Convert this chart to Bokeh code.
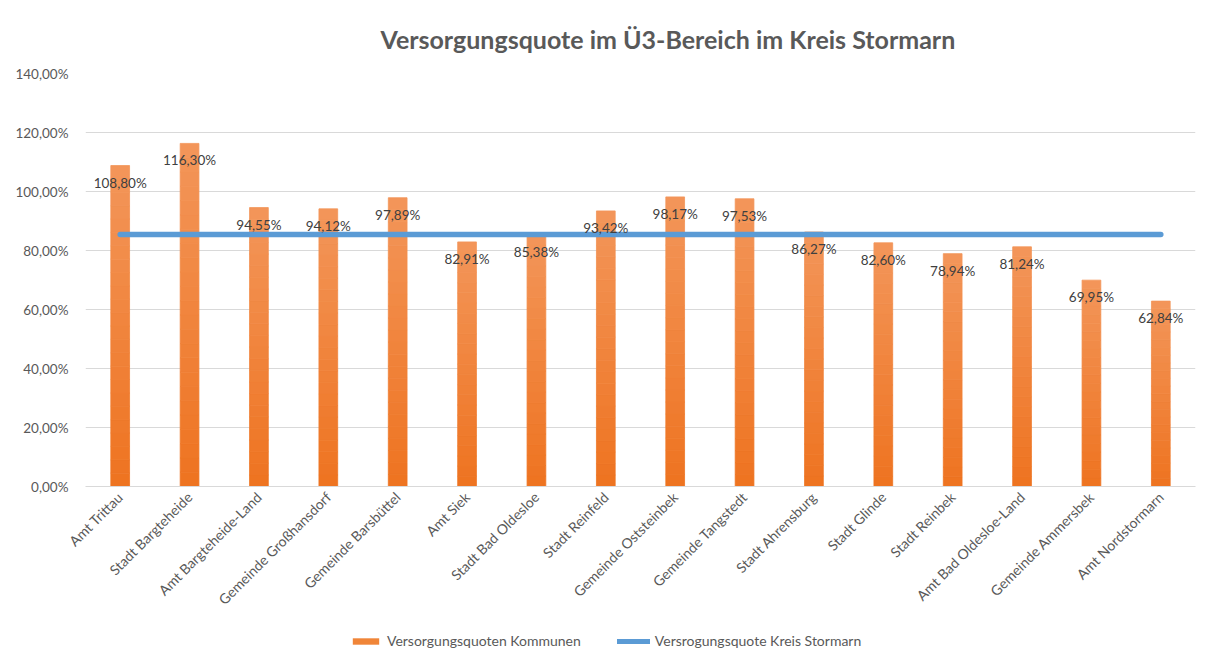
from bokeh.plotting import figure
from bokeh.layouts import column
from bokeh.models import (Range1d, FactorRange, SingleIntervalTicker, CustomJSTickFormatter,
                          Legend, LegendItem, ColumnDataSource)
from bokeh.core.properties import value
from bokeh.embed import file_html
from bokeh.resources import INLINE
import math

categories = ["Amt Trittau", "Stadt Bargteheide", "Amt Bargteheide-Land", "Gemeinde Großhansdorf",
              "Gemeinde Barsbüttel", "Amt Siek", "Stadt Bad Oldesloe", "Stadt Reinfeld",
              "Gemeinde Oststeinbek", "Gemeinde Tangstedt", "Stadt Ahrensburg", "Stadt Glinde",
              "Stadt Reinbek", "Amt Bad Oldesloe-Land", "Gemeinde Ammersbek", "Amt Nordstormarn"]
quoten = [108.80, 116.30, 94.55, 94.12, 97.89, 82.91, 85.38, 93.42,
          98.17, 97.53, 86.27, 82.60, 78.94, 81.24, 69.95, 62.84]
kreis_quote = 85.4

labels = [f"{v:.2f}".replace(".", ",") + "%" for v in quoten]

FONT = "Lato"
GRAY = "#595959"
ORANGE = "#F08538"
BLUE = "#5B9BD5"

src = ColumnDataSource(dict(cat=categories, val=quoten, lab=labels, kreis=[kreis_quote] * len(categories)))

p = figure(width=1200, height=628, x_range=FactorRange(*categories), y_range=Range1d(0, 140),
           output_backend="svg", toolbar_location=None,
           min_border_left=85, min_border_right=5, min_border_top=73, min_border_bottom=142)

p.title.text = "Versorgungsquote im Ü3-Bereich im Kreis Stormarn"
p.title.align = "left"
p.title.offset = 295
p.title.standoff = 40
p.title.text_font = FONT
p.title.text_font_size = "25px"
p.title.text_font_style = "bold"
p.title.text_color = GRAY

p.outline_line_color = None
p.background_fill_color = "white"
p.border_fill_color = "white"

# bars with a vertical light-to-dark gradient (drawn as stacked slices of each bar)
N_SLICES = 24
def mix(c1, c2, t):
    a = [int(c1[i:i + 2], 16) for i in (1, 3, 5)]
    b = [int(c2[i:i + 2], 16) for i in (1, 3, 5)]
    return "#%02x%02x%02x" % tuple(round(a[i] + (b[i] - a[i]) * t) for i in range(3))

bars = None
for k in range(N_SLICES):
    col = mix("#EE7320", "#F3965A", (k + 0.5) / N_SLICES)
    bottoms = [v * k / N_SLICES for v in quoten]
    tops = [v * (k + 1) / N_SLICES for v in quoten]
    r = p.vbar(x=categories, bottom=bottoms, top=tops, width=0.27,
               fill_color=col, line_color=col, line_width=0.8)
    if bars is None:
        bars = r

line = p.line(x="cat", y="kreis", source=src, line_color=BLUE, line_width=5.5, line_cap="round")

p.text(x="cat", y="val", text="lab", source=src, x_offset=0, y_offset=17,
       text_align="center", text_baseline="middle", text_font=value(FONT),
       text_font_size="13.5px", text_color="#404040")

p.yaxis.ticker = SingleIntervalTicker(interval=20)
p.yaxis.formatter = CustomJSTickFormatter(code="return tick.toFixed(2).replace('.', ',') + '%';")
p.ygrid.ticker = SingleIntervalTicker(interval=20)
p.ygrid.grid_line_color = "#D9D9D9"
p.xgrid.grid_line_color = None

for ax in (p.xaxis, p.yaxis):
    ax.axis_line_color = None
    ax.major_tick_line_color = None
    ax.minor_tick_line_color = None
    ax.major_tick_out = 0
    ax.major_tick_in = 0
    ax.minor_tick_out = 0
    ax.major_label_text_font = FONT
    ax.major_label_text_color = GRAY
p.yaxis.major_label_text_font_size = "13.5px"
p.xaxis.major_label_text_font_size = "14px"
p.xaxis.axis_line_color = "#D9D9D9"
p.yaxis.major_label_standoff = 17
p.xaxis.major_label_orientation = math.pi / 4
p.xaxis.major_label_standoff = 8

# legend strip below the chart
lg = figure(width=1200, height=22, output_backend="svg", toolbar_location=None,
            x_range=Range1d(0, 1), y_range=Range1d(0, 1),
            x_axis_location=None, y_axis_location=None,
            min_border_left=0, min_border_right=0, min_border_top=0, min_border_bottom=0)
lg.grid.visible = False
lg.outline_line_color = None
dummy = ColumnDataSource(dict(x=[-5, -4], y=[-5, -4]))
lb = lg.vbar(x="x", top="y", width=0.1, source=dummy, fill_color=ORANGE, line_color=None)
ll = lg.line(x="x", y="y", source=dummy, line_color=BLUE, line_width=5, line_cap="round")

legend = Legend(items=[LegendItem(label="Versorgungsquoten Kommunen", renderers=[lb]),
                       LegendItem(label="Versrogungsquote Kreis Stormarn", renderers=[ll])],
                orientation="horizontal", location=(264, 1), padding=0, margin=0,
                label_text_font=FONT, label_text_font_size="14px", label_text_color=GRAY,
                glyph_width=33, glyph_height=8, spacing=36, label_standoff=5,
                border_line_color=None, background_fill_alpha=0)
lg.add_layout(legend)

layout = column(p, lg, spacing=0)
open("out.html", "w").write(file_html(layout, INLINE))
